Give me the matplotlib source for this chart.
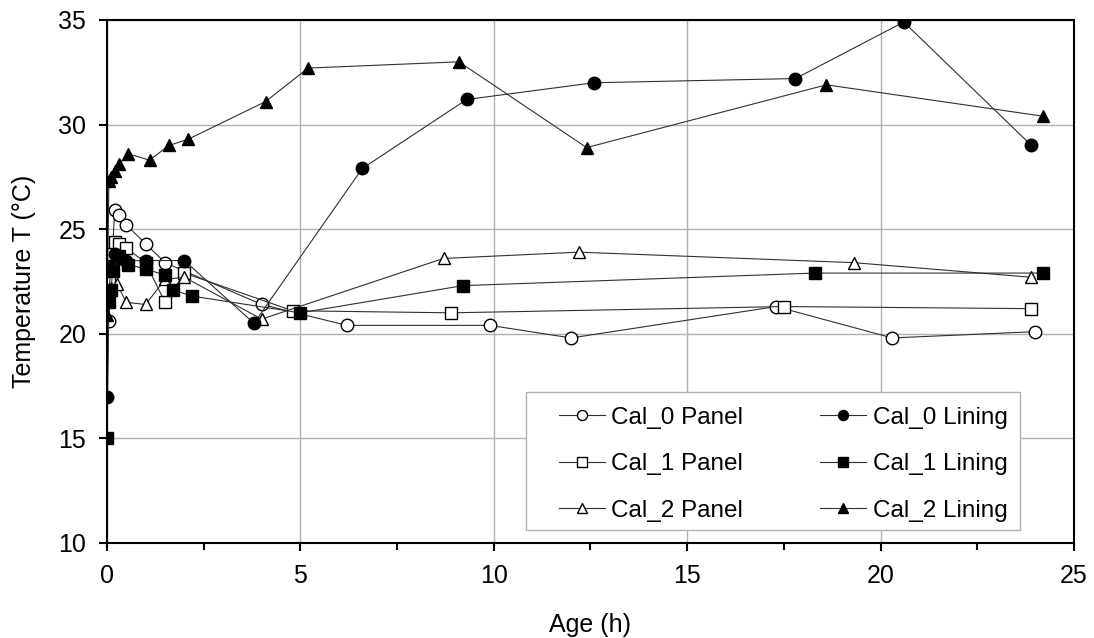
import matplotlib
matplotlib.use('Agg')
import matplotlib.pyplot as plt
from matplotlib.patches import Rectangle
from matplotlib.ticker import MultipleLocator

plt.rcParams['font.family'] = ['Liberation Sans', 'DejaVu Sans']

# age (h) and temperature (degC)
cal0_panel_x = [0.05, 0.1, 0.2, 0.3, 0.5, 1.0, 1.5, 4.0, 6.2, 9.9, 12.0, 17.3, 20.3, 24.0]
cal0_panel_y = [20.6, 22.6, 25.9, 25.7, 25.2, 24.3, 23.4, 21.4, 20.4, 20.4, 19.8, 21.3, 19.8, 20.1]

cal0_lining_x = [0.0, 0.05, 0.1, 0.2, 0.3, 0.5, 1.0, 2.0, 3.8, 6.6, 9.3, 12.6, 17.8, 20.6, 23.9]
cal0_lining_y = [17.0, 22.0, 23.2, 23.8, 23.6, 23.5, 23.5, 23.5, 20.5, 27.9, 31.2, 32.0, 32.2, 34.9, 29.0]

cal1_panel_x = [0.05, 0.1, 0.2, 0.3, 0.5, 1.0, 1.5, 2.0, 4.8, 8.9, 17.5, 23.9]
cal1_panel_y = [22.6, 23.8, 24.4, 24.3, 24.1, 23.4, 21.5, 22.9, 21.1, 21.0, 21.3, 21.2]

cal1_lining_x = [0.0, 0.05, 0.1, 0.15, 0.3, 0.55, 1.0, 1.5, 1.7, 2.2, 5.0, 9.2, 18.3, 24.2]
cal1_lining_y = [15.0, 21.5, 22.1, 23.0, 23.7, 23.3, 23.1, 22.8, 22.1, 21.8, 21.0, 22.3, 22.9, 22.9]

cal2_panel_x = [0.1, 0.25, 0.5, 1.0, 1.5, 2.0, 4.0, 8.7, 12.2, 19.3, 23.9]
cal2_panel_y = [22.2, 22.4, 21.5, 21.4, 22.6, 22.7, 20.7, 23.6, 23.9, 23.4, 22.7]

cal2_lining_x = [0.0, 0.05, 0.1, 0.2, 0.3, 0.55, 1.1, 1.6, 2.1, 4.1, 5.2, 9.1, 12.4, 18.6, 24.2]
cal2_lining_y = [20.9, 27.3, 27.5, 27.8, 28.1, 28.6, 28.3, 29.0, 29.3, 31.1, 32.7, 33.0, 28.9, 31.9, 30.4]

fig = plt.figure(figsize=(10.94, 6.38), dpi=100)
ax = fig.add_axes([0.0978, 0.149, 0.8839, 0.8197])

line_kw = dict(color='#303030', lw=0.8, markersize=9, markeredgecolor='black', markeredgewidth=1.0)

ax.plot(cal0_panel_x, cal0_panel_y, marker='o', markerfacecolor='white', label='Cal_0 Panel', **line_kw)
ax.plot(cal1_panel_x, cal1_panel_y, marker='s', markerfacecolor='white', label='Cal_1 Panel', **line_kw)
ax.plot(cal2_panel_x, cal2_panel_y, marker='^', markerfacecolor='white', label='Cal_2 Panel', **line_kw)
ax.plot(cal0_lining_x, cal0_lining_y, marker='o', markerfacecolor='black', label='Cal_0 Lining', **line_kw)
ax.plot(cal1_lining_x, cal1_lining_y, marker='s', markerfacecolor='black', label='Cal_1 Lining', **line_kw)
ax.plot(cal2_lining_x, cal2_lining_y, marker='^', markerfacecolor='black', label='Cal_2 Lining', **line_kw)

ax.set_xlim(0, 25)
ax.set_ylim(10, 35)
ax.xaxis.set_major_locator(MultipleLocator(5))
ax.xaxis.set_minor_locator(MultipleLocator(2.5))
ax.yaxis.set_major_locator(MultipleLocator(5))
ax.grid(True, which='major', color='#b0b0b0', lw=1.0)
ax.set_axisbelow(True)
for s in ax.spines.values():
    s.set_linewidth(1.5)
ax.tick_params(which='both', direction='out', width=1.5, labelsize=18, color='black')
ax.tick_params(which='major', length=6)
ax.tick_params(which='minor', length=5)
ax.tick_params(axis='x', pad=9)
ax.tick_params(axis='y', pad=9)

ax.set_xlabel('Age (h)', fontsize=18, labelpad=18)
ax.set_ylabel('Temperature T (°C)', fontsize=18, labelpad=16)

# legend frame drawn separately so the padding can match
ax.add_patch(Rectangle((0.433, 0.025), 0.511, 0.264, transform=ax.transAxes,
                       facecolor='white', edgecolor='#b0b0b0', lw=1.0, zorder=4))
leg = ax.legend(ncol=2, loc='upper left', bbox_to_anchor=(0.4674, 0.260), fontsize=17.5,
                frameon=False, handlelength=1.9, handletextpad=0.25, columnspacing=3.17,
                labelspacing=1.0, borderpad=0, borderaxespad=0, markerscale=0.8)
leg.set_zorder(5)

fig.savefig('out.png', dpi=100)
